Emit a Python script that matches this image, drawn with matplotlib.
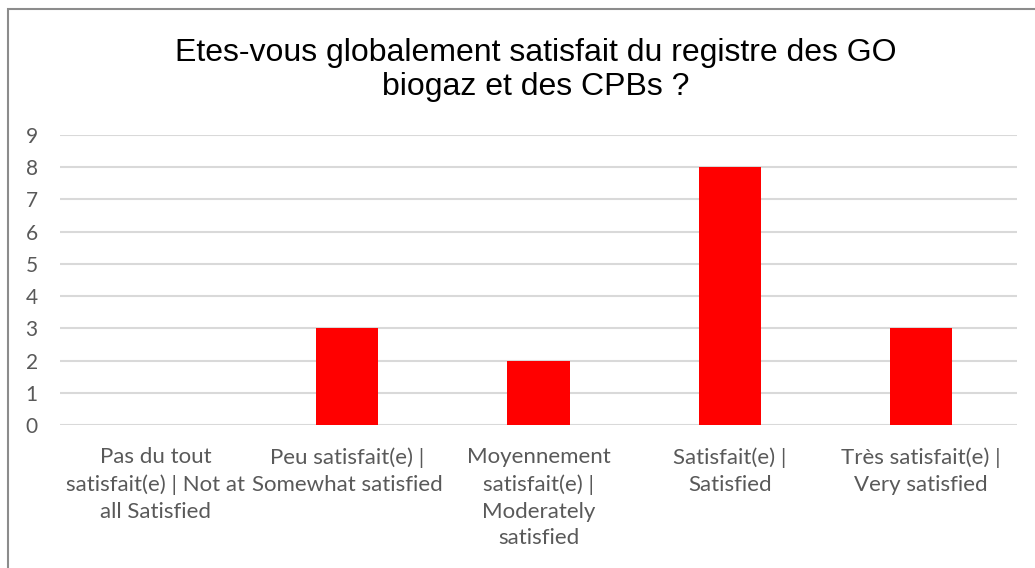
import matplotlib.pyplot as plt
from matplotlib.patches import Rectangle

categories = [
    "Pas du tout\nsatisfait(e) | Not at\nall Satisfied",
    "Peu satisfait(e) |\nSomewhat satisfied",
    "Moyennement\nsatisfait(e) |\nModerately\nsatisfied",
    "Satisfait(e) |\nSatisfied",
    "Très satisfait(e) |\nVery satisfied",
]
counts = [0, 3, 2, 8, 3]
yticks = list(range(10))

W, H = 1035, 568
fig = plt.figure(figsize=(W / 100, H / 100), dpi=100)

# chart frame (cut on the right and bottom in the reference)
fig.patches.append(Rectangle((8 / W, -0.05), 1.2, 1 - 9.5 / H + 0.05,
                             transform=fig.transFigure, fill=False,
                             edgecolor="#8c8c8c", linewidth=1.5))

ax = fig.add_axes([60 / W, 1 - 425 / H, (1017 - 60) / W, (425 - 135) / H])
x = range(len(categories))
ax.bar(x, counts, width=0.325, color="#ff0000", zorder=3)

ax.set_xlim(-0.5, len(categories) - 0.5)
ax.set_ylim(0, 9)
ax.set_yticks(yticks)
ax.grid(axis="y", color="#d9d9d9", linewidth=1.5, zorder=0)
for s in ax.spines.values():
    s.set_visible(False)

ax.set_xticks(list(x))
ax.set_xticklabels(categories, fontsize=16, color="#595959", family="Lato",
                   linespacing=1.42)
ax.tick_params(axis="x", length=0, pad=16)
ax.tick_params(axis="y", length=0, pad=16, labelsize=15, labelcolor="#595959")
for lab in ax.get_yticklabels():
    lab.set_family("Lato")

fig.text(536 / W, 1 - 70 / H,
         "Etes-vous globalement satisfait du registre des GO\nbiogaz et des CPBs ?",
         ha="center", va="center", fontsize=23, family="Liberation Sans",
         color="#000000", linespacing=1.2)

fig.savefig("out.png", dpi=100)
